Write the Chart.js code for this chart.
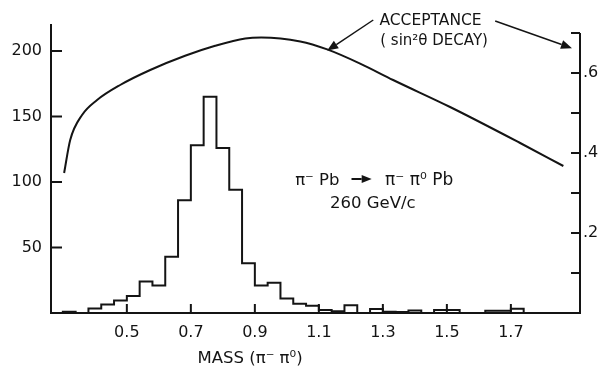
<!DOCTYPE html>
<html>
<head>
<meta charset="utf-8">
<script src="https://cdn.jsdelivr.net/npm/chart.js@4.4.1/dist/chart.umd.min.js"></script>
<style>
  html, body { margin: 0; padding: 0; background: #fff; }
  canvas { display: block; }
</style>
</head>
<body>
<canvas id="mass-chart" width="607" height="369"></canvas>
<script>
// pi- pi0 invariant mass spectrum, 0.04 GeV bins (left edges + final right edge)
const binEdges = [0.30, 0.34, 0.38, 0.42, 0.46, 0.50, 0.54, 0.58, 0.62, 0.66, 0.70, 0.74,
                  0.78, 0.82, 0.86, 0.90, 0.94, 0.98, 1.02, 1.06, 1.10, 1.14, 1.18, 1.22,
                  1.26, 1.30, 1.34, 1.38, 1.42, 1.46, 1.50, 1.54, 1.58, 1.62, 1.66, 1.70, 1.74];
const binCounts = [1, 0, 3.5, 6.5, 9.5, 13, 24, 21, 43, 86, 128, 165,
                   126, 94, 38, 21, 23, 11, 7, 5.5, 2.3, 1.3, 6, 0,
                   3, 1, 0.8, 2, 0, 2.3, 2.3, 0, 0, 1.8, 1.8, 3.3];

// acceptance curve (right axis)
const acceptanceMass = [0.304, 0.323, 0.36, 0.407, 0.479, 0.573, 0.682, 0.776, 0.87, 0.92,
                        1.042, 1.126, 1.229, 1.332, 1.51, 1.729, 1.864];
const acceptance     = [0.35, 0.4325, 0.495, 0.5325, 0.57, 0.6075, 0.643, 0.668, 0.6865, 0.689,
                        0.679, 0.659, 0.6235, 0.5825, 0.515, 0.425, 0.3675];

const massTicks = [0.5, 0.7, 0.9, 1.1, 1.3, 1.5, 1.7];
const countTicks = [50, 100, 150, 200];
const acceptanceLabels = [0.2, 0.4, 0.6];
const acceptanceMarks = [0.1, 0.2, 0.3, 0.4, 0.5, 0.6, 0.7];

const INK = '#141414';
const FONT = 'DejaVu Sans';

Chart.defaults.font.family = FONT;
Chart.defaults.font.size = 16;
Chart.defaults.color = INK;

const histPoints = [{x: binEdges[0], y: 0}];
binCounts.forEach((c, i) => histPoints.push({x: binEdges[i], y: c}));
histPoints.push({x: binEdges[binEdges.length - 1], y: 0});

const curvePoints = acceptanceMass.map((m, i) => ({x: m, y: acceptance[i]}));

function arrow(ctx, x0, y0, x1, y1, head, half) {
    const a = Math.atan2(y1 - y0, x1 - x0);
    const bx = x1 - head * Math.cos(a);
    const by = y1 - head * Math.sin(a);
    ctx.beginPath();
    ctx.moveTo(x0, y0);
    ctx.lineTo(bx, by);
    ctx.stroke();
    ctx.beginPath();
    ctx.moveTo(x1, y1);
    ctx.lineTo(bx + half * Math.sin(a), by - half * Math.cos(a));
    ctx.lineTo(bx - half * Math.sin(a), by + half * Math.cos(a));
    ctx.closePath();
    ctx.fill();
}

function text(ctx, str, x, y, size, align) {
    ctx.font = `${size}px "${FONT}"`;
    ctx.textAlign = align || 'left';
    ctx.textBaseline = 'alphabetic';
    ctx.fillText(str, x, y);
}

// axes, inward tick marks and the hand lettering
const inkPlugin = {
    id: 'ink',
    afterDraw(chart) {
        const {ctx, chartArea: area, scales: {x, y, y1}} = chart;
        const px = v => x.getPixelForValue(v);
        const pa = v => y1.getPixelForValue(v);
        ctx.save();
        ctx.strokeStyle = INK;
        ctx.fillStyle = INK;
        ctx.lineWidth = 2;

        ctx.beginPath();
        ctx.moveTo(area.left, area.top);
        ctx.lineTo(area.left, area.bottom);
        ctx.lineTo(area.right, area.bottom);
        ctx.lineTo(area.right, pa(0.7));
        ctx.stroke();

        ctx.beginPath();
        countTicks.forEach(v => {
            const yy = y.getPixelForValue(v);
            ctx.moveTo(area.left, yy);
            ctx.lineTo(area.left + 11, yy);
        });
        massTicks.forEach(v => {
            ctx.moveTo(px(v), area.bottom);
            ctx.lineTo(px(v), area.bottom - 9);
        });
        acceptanceMarks.forEach(v => {
            ctx.moveTo(area.right, pa(v));
            ctx.lineTo(area.right - 9, pa(v));
        });
        ctx.stroke();

        text(ctx, 'ACCEPTANCE', px(1.449), pa(0.72), 15.5, 'center');
        text(ctx, '( sin²θ DECAY)', px(1.46), pa(0.67), 15, 'center');
        ctx.lineWidth = 1.5;
        arrow(ctx, px(1.27), pa(0.7325), px(1.126), pa(0.656), 11, 4.5);
        arrow(ctx, px(1.651), pa(0.73), px(1.891), pa(0.662), 11, 4.5);

        text(ctx, 'π⁻ Pb', px(1.026), pa(0.32), 16.5);
        ctx.lineWidth = 2;
        arrow(ctx, px(1.202), pa(0.335), px(1.265), pa(0.335), 10, 4);
        text(ctx, 'π⁻ π⁰ Pb', px(1.307), pa(0.32), 17);
        text(ctx, '260 GeV/c', px(1.135), pa(0.263), 16.5);

        text(ctx, 'MASS (π⁻ π⁰)', px(0.885), area.bottom + 50, 16.5, 'center');
        ctx.restore();
    }
};

new Chart(document.getElementById('mass-chart'), {
    type: 'line',
    data: {
        datasets: [{
            label: 'events',
            data: histPoints,
            yAxisID: 'y',
            stepped: 'before',
            borderColor: INK,
            borderWidth: 2,
            pointRadius: 0,
            fill: false
        }, {
            label: 'acceptance',
            data: curvePoints,
            yAxisID: 'y1',
            cubicInterpolationMode: 'monotone',
            borderColor: INK,
            borderWidth: 2,
            pointRadius: 0,
            fill: false
        }]
    },
    options: {
        responsive: false,
        animation: false,
        layout: { padding: { top: 24, left: 0, right: 0, bottom: 0 } },
        plugins: {
            legend: { display: false },
            tooltip: { enabled: false }
        },
        scales: {
            x: {
                type: 'linear',
                min: 0.263,
                max: 1.916,
                grid: { display: false, drawTicks: false },
                border: { display: false },
                afterBuildTicks: s => { s.ticks = massTicks.map(v => ({value: v})); },
                afterFit: s => { s.height = 56; },
                ticks: {
                    padding: 10,
                    maxRotation: 0,
                    callback: v => v.toFixed(1)
                }
            },
            y: {
                position: 'left',
                min: 0,
                max: 220.6,
                grid: { display: false, drawTicks: false },
                border: { display: false },
                afterBuildTicks: s => { s.ticks = countTicks.map(v => ({value: v})); },
                afterFit: s => { s.width = 51; },
                ticks: { padding: 9 }
            },
            y1: {
                position: 'right',
                min: 0,
                max: 0.7225,
                grid: { display: false, drawTicks: false },
                border: { display: false },
                afterBuildTicks: s => { s.ticks = acceptanceLabels.map(v => ({value: v})); },
                afterFit: s => { s.width = 27; },
                ticks: {
                    padding: 3,
                    callback: v => v.toFixed(1).replace(/^0/, '')
                }
            }
        }
    },
    plugins: [inkPlugin]
});
</script>
</body>
</html>
